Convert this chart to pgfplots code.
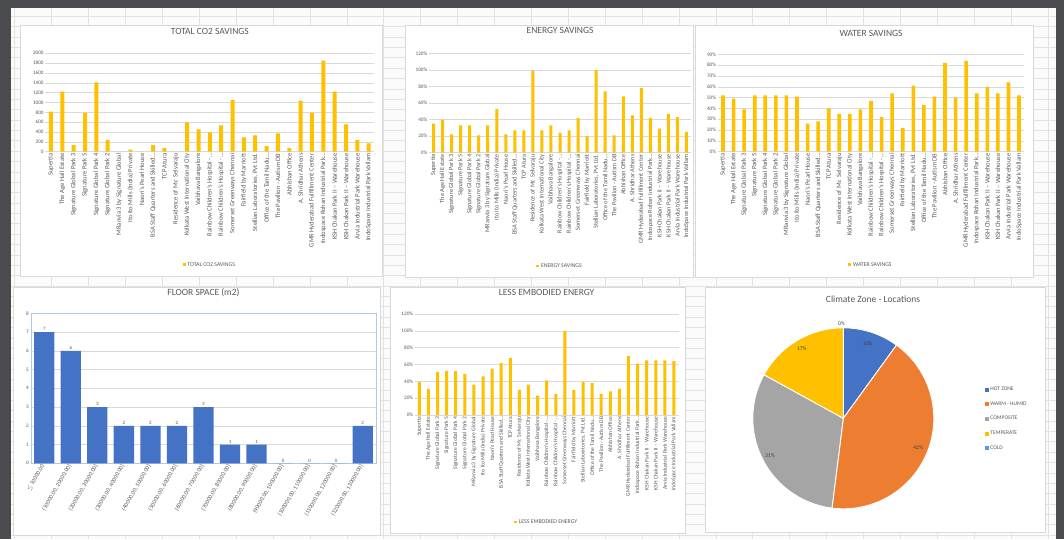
\documentclass[border=0pt]{standalone}
\usepackage{fontspec}
\setmainfont{Carlito}
\usepackage{pgfplots}
\usepackage{pgfplotstable}
\pgfplotsset{compat=1.18}

\definecolor{bg}{HTML}{4A4B4F}
\definecolor{cell}{HTML}{FBFBFB}
\definecolor{cellline}{HTML}{E2E2E2}
\definecolor{gold}{HTML}{FFC000}
\definecolor{txt}{HTML}{595959}
\definecolor{gridc}{HTML}{D9D9D9}
\definecolor{xblue}{HTML}{4472C4}
\definecolor{xorange}{HTML}{ED7D31}
\definecolor{xgray}{HTML}{A5A5A5}
\definecolor{xlblue}{HTML}{5B9BD5}
\definecolor{selblue}{HTML}{B4C7E7}

% project data: CO2 savings, energy savings %, water savings %, less embodied energy %
\pgfplotstableread{
i co2 energy water embodied
0 814 35 52 39
1 1220 40 49 31
2 136 22 39 51
3 793 33 52 52
4 1410 33 52 52
5 237 21 52 49
6 0 33 52 36
7 40 53 51 46
8 0 22 26 55
9 136 27 28 62
10 75 27 40 68
11 0 99 35 30
12 597 27 35 36
13 454 33 39 23
14 393 24 47 41
15 536 27 32 25
16 1051 42 54 100
17 292 20 22 30
18 332 100 61 39
19 115 74 43 38
20 373 21 51 25
21 75 68 82 28
22 1037 45 50 31
23 793 78 84 70
24 1851 42 54 61
25 1220 29 60 65
26 556 47 54 65
27 237 43 64 65
28 170 25 52 64
}\projects

\pgfplotstableread{
i n
0 7
1 6
2 3
3 2
4 2
5 2
6 3
7 1
8 1
9 0
10 0
11 0
12 2
}\floor

% climate zones (percent)
\def\pctHot{10}\def\pctWarm{42}\def\pctComp{31}\def\pctTemp{17}\def\pctCold{0}
\pgfmathsetmacro\aA{90}
\pgfmathsetmacro\aB{\aA-3.6*\pctHot}
\pgfmathsetmacro\aC{\aB-3.6*\pctWarm}
\pgfmathsetmacro\aD{\aC-3.6*\pctComp}
\pgfmathsetmacro\aE{\aD-3.6*\pctTemp}
\pgfmathsetmacro\aF{\aE-3.6*\pctCold}

\pgfplotsset{
  projticks/.style={xtick={0,1,2,3,4,5,6,7,8,9,10,11,12,13,14,15,16,17,18,19,20,21,22,23,24,25,26,27,28},
    xticklabels={{Supertia}, {The Age Hall Estate}, {Signature Global Park 3}, {Signature Park 5}, {Signature Global Park 4}, {Signature Global Park 2}, {MRanvia 3 by Signature Global}, {Ito Ito Mills (India) Private}, {Naori's Pearl House}, {BSA Staff Quarters and Skilled\ldots}, {TCP Atura}, {Residence of Mr. Selvaraju}, {Kolkata West International City}, {Vaibhava Bangalore}, {Rainbow Children's Hospital -\ldots}, {Rainbow Children's Hospital -\ldots}, {Somerset Greenways Chennai}, {Fairfield by Marriott}, {Stellian Laboratories, Pvt Ltd.}, {Office of the Tamil Nadu\ldots}, {The Pavilion - Autism DB}, {Abhishan Office}, {A. Shridhar Athens}, {GMR Hyderabad Fulfillment Center}, {Indospace Rohan Industrial Park\ldots}, {KSH Chakan Park II – Warehouse}, {KSH Chakan Park II – Warehouse}, {Arvia Industrial Park Warehouse}, {IndoSpace Industrial Park Vallam}}},
  goldchart/.style={
    scale only axis, anchor=south west,
    xmin=-0.5, xmax=28.5, ymin=0,
    projticks,
    axis lines*=left,
    x axis line style={gridc, line width=0.6pt},
    y axis line style={draw=none},
    tick style={draw=none},
    ymajorgrids, grid style={gridc, line width=0.5pt},
    xticklabel style={rotate=90, anchor=east, font=\fontsize{#1}{#1}\selectfont, text=txt, inner sep=1.5pt},
    yticklabel style={font=\fontsize{5.2}{6}\selectfont, text=txt, inner sep=1.5pt},
    /pgf/number format/assume math mode=true,
    /pgf/number format/1000 sep={},
    title style={font=\fontsize{9.5}{11}\selectfont, text=txt, anchor=center},
    legend style={draw=none, fill=none, font=\fontsize{5.8}{7}\selectfont, text=txt, anchor=center, inner sep=1pt},
  },
  pctticks/.style={yticklabel={\pgfmathprintnumber{\tick}\%}},
}

\begin{document}
\begin{tikzpicture}[x=1pt,y=1pt]
\useasboundingbox (0,0) rectangle (1064,539);
\fill[bg] (0,0) rectangle (1064,539);
\fill[cell] (11,0) rectangle (1056,531);
\begin{scope}
\clip (11,0) rectangle (1056,531);
\foreach \k in {0,...,51} {\draw[cellline, line width=0.9pt] (11,{539-(16.3+10.38*\k)}) -- (1056,{539-(16.3+10.38*\k)});}
\foreach \k in {0,...,28} {\draw[cellline, line width=0.9pt] ({14.9+36.9*\k},0) -- ({14.9+36.9*\k},531);}
\end{scope}
% chart panels
\filldraw[fill=white, draw=gridc, line width=0.6pt] (20,263) rectangle (382,514);
\filldraw[fill=white, draw=gridc, line width=0.6pt] (405,262) rectangle (693,514);
\filldraw[fill=white, draw=gridc, line width=0.6pt] (695,262) rectangle (1033,514);
\filldraw[fill=white, draw=gridc, line width=0.6pt] (13,4) rectangle (380,252);
\filldraw[fill=white, draw=gridc, line width=0.6pt] (390,6) rectangle (685,252);
\filldraw[fill=white, draw=gridc, line width=0.6pt] (705,7) rectangle (1045,252);

% TOTAL CO2 SAVINGS
\begin{axis}[goldchart=6.6, at={(45.3pt,387.3pt)}, width=329.1pt, height=98.4pt,
  ymax=2000, ytick={0,200,400,600,800,1000,1200,1400,1600,1800,2000},
  title={TOTAL CO2 SAVINGS}, title style={at={(0.5,1.166)}},
  legend style={at={(0.5,-1.151)}}]
\addplot[ybar, bar width=4pt, fill=gold, draw=none,
  legend image code/.code={\fill[gold] (0pt,-1.3pt) rectangle (2.8pt,1.5pt);}]
  table[x=i, y=co2] {\projects};
\addlegendentry{TOTAL CO2 SAVINGS}
\end{axis}

% ENERGY SAVINGS
\begin{axis}[goldchart=6.3, pctticks, at={(429pt,386.3pt)}, width=262pt, height=99.4pt,
  ymax=120, ytick={0,20,40,60,80,100,120},
  title={ENERGY SAVINGS}, title style={at={(0.5,1.174)}},
  legend style={at={(0.5,-1.14)}}]
\addplot[ybar, bar width=3pt, fill=gold, draw=none,
  legend image code/.code={\fill[gold] (0pt,-1.3pt) rectangle (2.8pt,1.5pt);}]
  table[x=i, y=energy] {\projects};
\addlegendentry{ENERGY SAVINGS}
\end{axis}

% WATER SAVINGS
\begin{axis}[goldchart=6.6, pctticks, at={(717.7pt,387.3pt)}, width=306.6pt, height=97.4pt,
  ymax=90, ytick={0,10,20,30,40,50,60,70,80,90},
  title={WATER SAVINGS}, title style={at={(0.5,1.157)}},
  legend style={at={(0.5,-1.163)}}]
\addplot[ybar, bar width=3.6pt, fill=gold, draw=none,
  legend image code/.code={\fill[gold] (0pt,-1.3pt) rectangle (2.8pt,1.5pt);}]
  table[x=i, y=water] {\projects};
\addlegendentry{WATER SAVINGS}
\end{axis}

% LESS EMBODIED ENERGY
\begin{axis}[goldchart=5.6, pctticks, at={(414.8pt,124pt)}, width=263.7pt, height=101pt,
  ymax=120, ytick={0,20,40,60,80,100,120},
  title={LESS EMBODIED ENERGY}, title style={at={(0.5,1.155)}},
  legend style={at={(0.5,-1.06)}}]
\addplot[ybar, bar width=3pt, fill=gold, draw=none,
  legend image code/.code={\fill[gold] (0pt,-1.3pt) rectangle (2.8pt,1.5pt);}]
  table[x=i, y=embodied] {\projects};
\addlegendentry{LESS EMBODIED ENERGY}
\end{axis}

% FLOOR SPACE
\begin{axis}[scale only axis, anchor=south west, at={(31pt,75.7pt)}, width=345pt, height=150pt,
  xmin=-0.5, xmax=12.5, ymin=0, ymax=8, ytick={0,1,2,3,4,5,6,7,8},
  xtick={0,1,2,3,4,5,6,7,8,9,10,11,12},
  xticklabels={{$\le$ 10000.00},{(10000.00, 20000.00]},{(20000.00, 30000.00]},{(30000.00, 40000.00]},{(40000.00, 50000.00]},{(50000.00, 60000.00]},{(60000.00, 70000.00]},{(70000.00, 80000.00]},{(80000.00, 90000.00]},{(90000.00, 100000.00]},{(100000.00, 110000.00]},{(110000.00, 120000.00]},{(120000.00, 130000.00]}},
  axis line style={selblue, line width=0.8pt},
  tick style={draw=none},
  ymajorgrids, grid style={gridc, line width=0.5pt},
  xticklabel style={rotate=60, anchor=east, font=\fontsize{6}{7}\selectfont, text=txt, inner sep=2pt},
  yticklabel style={font=\fontsize{5.2}{6}\selectfont, text=txt, inner sep=2pt},
  /pgf/number format/assume math mode=true,
  title={FLOOR SPACE (m2)}, title style={at={(0.5,1.095)}, anchor=center, font=\fontsize{9.5}{11}\selectfont, text=txt},
  nodes near coords,
  nodes near coords style={font=\fontsize{5}{6}\selectfont, text=txt, inner sep=1pt, /pgf/number format/assume math mode=true}]
\addplot[ybar, bar width=20.3pt, fill=xblue, draw=none] table[x=i, y=n] {\floor};
\end{axis}

% CLIMATE ZONE PIE
\begin{axis}[scale only axis, anchor=center, at={(843.3pt,120.7pt)}, width=181pt, height=181pt,
  xmin=-1, xmax=1, ymin=-1, ymax=1, hide axis, clip=false,
  legend style={at={(1.283,0.497)}, anchor=west, draw=none, fill=none, font=\fontsize{5.5}{6.5}\selectfont, text=txt, row sep=5.6pt, inner sep=0pt},
  legend cell align=left]
\addlegendimage{legend image code/.code={\fill[xblue] (0pt,-1.3pt) rectangle (2.8pt,1.5pt);}}
\addlegendentry{HOT ZONE}
\addlegendimage{legend image code/.code={\fill[xorange] (0pt,-1.3pt) rectangle (2.8pt,1.5pt);}}
\addlegendentry{WARM - HUMID}
\addlegendimage{legend image code/.code={\fill[xgray] (0pt,-1.3pt) rectangle (2.8pt,1.5pt);}}
\addlegendentry{COMPOSITE}
\addlegendimage{legend image code/.code={\fill[gold] (0pt,-1.3pt) rectangle (2.8pt,1.5pt);}}
\addlegendentry{TEMPERATE}
\addlegendimage{legend image code/.code={\fill[xlblue] (0pt,-1.3pt) rectangle (2.8pt,1.5pt);}}
\addlegendentry{COLD}
\filldraw[fill=xblue, draw=white, line width=0.9pt, line join=round] (axis cs:0,0) -- (axis cs:{cos(\aA)},{sin(\aA)}) arc[start angle=\aA, end angle=\aB, radius=90.5pt] -- cycle;
\filldraw[fill=xorange, draw=white, line width=0.9pt, line join=round] (axis cs:0,0) -- (axis cs:{cos(\aB)},{sin(\aB)}) arc[start angle=\aB, end angle=\aC, radius=90.5pt] -- cycle;
\filldraw[fill=xgray, draw=white, line width=0.9pt, line join=round] (axis cs:0,0) -- (axis cs:{cos(\aC)},{sin(\aC)}) arc[start angle=\aC, end angle=\aD, radius=90.5pt] -- cycle;
\filldraw[fill=gold, draw=white, line width=0.9pt, line join=round] (axis cs:0,0) -- (axis cs:{cos(\aD)},{sin(\aD)}) arc[start angle=\aD, end angle=\aE, radius=90.5pt] -- cycle;
\node[font=\fontsize{5.5}{6.5}\selectfont, text=black!75] at (axis cs:{0.87*cos((\aA+\aB)/2)},{0.87*sin((\aA+\aB)/2)}) {\pctHot\%};
\node[font=\fontsize{5.5}{6.5}\selectfont, text=black!75] at (axis cs:{0.89*cos((\aB+\aC)/2)},{0.89*sin((\aB+\aC)/2)}) {\pctWarm\%};
\node[font=\fontsize{5.5}{6.5}\selectfont, text=black!75] at (axis cs:{0.91*cos((\aC+\aD)/2)},{0.91*sin((\aC+\aD)/2)}) {\pctComp\%};
\node[font=\fontsize{5.5}{6.5}\selectfont, text=black!75] at (axis cs:{0.9*cos((\aD+\aE)/2)},{0.9*sin((\aD+\aE)/2)}) {\pctTemp\%};
\node[font=\fontsize{5.5}{6.5}\selectfont, text=black!75] at (axis cs:{-0.02+1.05*cos((\aE+\aF)/2)},{1.05*sin((\aE+\aF)/2)}) {\pctCold\%};
\node[font=\fontsize{9.5}{11}\selectfont, text=txt] at (rel axis cs:0.664,1.159) {Climate Zone - Locations};
\end{axis}
\end{tikzpicture}
\end{document}
